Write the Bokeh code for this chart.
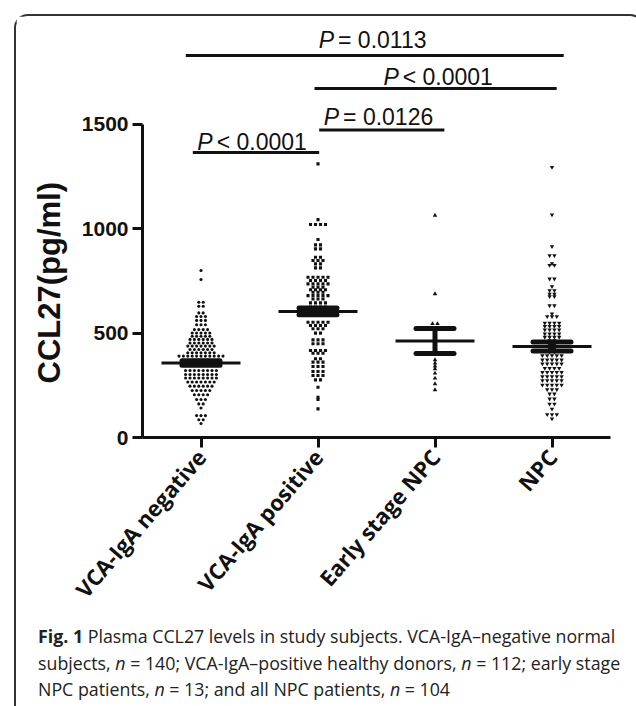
import math
from collections import defaultdict

from bokeh.plotting import figure
from bokeh.models import Range1d, FixedTicker, Label, Div, Title
from bokeh.layouts import column
from bokeh.embed import file_html
from bokeh.resources import INLINE

# ---------------- data ----------------
categories = ["VCA-IgA negative", "VCA-IgA positive", "Early stage NPC", "NPC"]
cat_pos = [1, 2, 3, 4]

vca_negative = [
    800, 757, 648, 648, 629, 629, 597, 597, 580, 580, 580, 561, 561, 561,
    540, 540, 540, 517, 517, 517, 517, 501, 501, 501, 501, 501,
    485, 485, 485, 485, 485, 470, 470, 470, 470, 470, 470,
    453, 453, 453, 453, 453, 453, 438, 438, 438, 438, 438, 438, 438,
    422, 422, 422, 422, 422, 422, 406, 406, 406, 406, 406, 406, 406,
    390, 390, 390, 390, 390, 390, 390, 390, 390, 390, 390,
    372, 372, 372, 372, 355, 355, 355, 355,
    321, 321, 321, 321, 321, 321, 321, 321,
    302, 302, 302, 302, 302, 302, 302, 302,
    285, 285, 285, 285, 285, 285, 285, 285,
    266, 266, 266, 266, 266, 266, 266, 246, 246, 246, 246, 246, 246,
    225, 225, 225, 225, 225, 205, 205, 205, 205, 182, 182, 182,
    161, 161, 141, 105, 105, 105, 85, 85, 67,
]
vca_positive = [
    1311, 1044, 1021, 1021, 1021, 1021, 949, 923, 923, 904, 904,
    864, 864, 848, 848, 848, 832, 832, 813, 813,
    768, 768, 768, 768, 768, 752, 752, 752, 752, 736, 736, 736, 736, 736,
    720, 720, 720, 708, 708, 708, 708, 696, 696, 696,
    680, 680, 680, 680, 680, 664, 664, 664,
    645, 645, 645, 645, 625, 625, 625, 625, 605, 605, 605, 605, 590, 590, 590,
    552, 552, 552, 552, 552, 537, 537, 537, 537, 521, 521, 521, 500, 500,
    468, 468, 468, 449, 449, 449, 417, 417, 417, 417, 404, 404, 404,
    377, 377, 361, 361, 361, 340, 340, 340, 316, 316, 316, 297, 297, 297,
    276, 276, 241, 193, 182, 137,
]
early_stage_npc = [1064, 688, 545, 545, 520, 372, 356, 342, 329, 308, 284, 257, 228]
npc = [
    1295, 1067, 915, 872, 872, 834, 825, 825, 760, 760, 724, 704, 704,
    688, 688, 676, 676, 632, 632, 593, 580, 580, 580,
    549, 549, 549, 549, 533, 533, 533, 533, 516, 516, 516, 516,
    497, 497, 497, 497, 481, 481, 481, 481, 465, 465, 445, 445, 425, 425,
    410, 410, 393, 393, 393, 393, 393, 372, 372, 372, 372, 372,
    353, 353, 353, 353, 353, 332, 332, 332, 332, 313, 313, 313, 313, 313,
    292, 292, 292, 292, 292, 273, 273, 273, 273, 273, 252, 252, 252, 252, 252,
    230, 230, 230, 209, 209, 185, 185, 161, 161, 137, 110, 110, 110, 90,
]

group_means = [357, 604, 462, 436]
group_sems = [11, 16, 60, 22]

sig_text = ["= 0.0113", "< 0.0001", "= 0.0126", "< 0.0001"]
sig_x0 = [0.87, 1.97, 2.01, 0.93]
sig_x1 = [4.10, 4.04, 3.08, 2.01]
sig_bar_y = [1831, 1672, 1474, 1366]
sig_text_x = [2.137, 2.69, 2.18, 1.10]
sig_text_y = [1905, 1727, 1538, 1416]

y_ticks = [0, 500, 1000, 1500]

# ---------------- layout helpers ----------------
PX_PER_X = 117.0


def row_offsets(vals, center, spacing_px):
    rows = defaultdict(list)
    for i, v in enumerate(vals):
        rows[v].append(i)
    xs = [0.0] * len(vals)
    for v, idx in rows.items():
        k = len(idx)
        for j, i in enumerate(idx):
            xs[i] = center + (j - (k - 1) / 2.0) * spacing_px / PX_PER_X
    return xs


INK = "#111111"

p = figure(width=616, height=602, output_backend="svg", toolbar_location=None,
           x_range=Range1d(0.5, 4.5), y_range=Range1d(0, 1979),
           min_border_left=126, min_border_right=22, min_border_top=8,
           min_border_bottom=181, background_fill_color="white",
           border_fill_color="white")
p.outline_line_color = None
p.xgrid.visible = False
p.ygrid.visible = False

# points
p.scatter(row_offsets(vca_negative, cat_pos[0], 4.4), vca_negative, marker="circle",
          size=3.1, fill_color=INK, line_color=None)
p.scatter(row_offsets(vca_positive, cat_pos[1], 5.0), vca_positive, marker="square",
          size=3.1, fill_color=INK, line_color=None)
p.scatter(row_offsets(early_stage_npc, cat_pos[2], 5.0), early_stage_npc, marker="triangle",
          size=4.5, fill_color=INK, line_color=None)
p.scatter(row_offsets(npc, cat_pos[3], 4.8), npc, marker="inverted_triangle",
          size=4.4, fill_color=INK, line_color=None)

# mean and SEM
half_mean = 39.5 / PX_PER_X
half_cap = 19.0 / PX_PER_X
p.segment([c - half_mean for c in cat_pos], group_means,
          [c + half_mean for c in cat_pos], group_means, line_width=3, color=INK)
lo = [m - s for m, s in zip(group_means, group_sems)]
hi = [m + s for m, s in zip(group_means, group_sems)]
p.segment(cat_pos, lo, cat_pos, hi, line_width=5, color=INK)
p.segment([c - half_cap for c in cat_pos], lo, [c + half_cap for c in cat_pos], lo,
          line_width=5, color=INK, line_cap="round")
p.segment([c - half_cap for c in cat_pos], hi, [c + half_cap for c in cat_pos], hi,
          line_width=5, color=INK, line_cap="round")

# significance bars
p.segment(sig_x0, sig_bar_y, sig_x1, sig_bar_y, line_width=3, color=INK)
for t, tx, ty in zip(sig_text, sig_text_x, sig_text_y):
    p.add_layout(Label(x=tx, y=ty, text="P", text_font="Liberation Sans",
                       text_font_style="italic", text_font_size="23px",
                       text_align="right", text_baseline="middle", text_color=INK))
    p.add_layout(Label(x=tx, y=ty, x_offset=4, text=t, text_font="Liberation Sans",
                       text_font_size="23px", text_align="left",
                       text_baseline="middle", text_color=INK))

# axes
yax = p.yaxis[0]
yax.ticker = FixedTicker(ticks=y_ticks)
yax.bounds = (0, 1500)
yax.minor_tick_line_color = None
yax.major_tick_in = 0
yax.major_tick_out = 10
yax.major_tick_line_width = 3
yax.axis_line_width = 3
yax.axis_line_color = INK
yax.major_tick_line_color = INK
yax.major_label_text_font = "Liberation Sans"
yax.major_label_text_font_style = "bold"
yax.major_label_text_font_size = "21px"
yax.major_label_text_color = INK
yax.major_label_standoff = 4

xax = p.xaxis[0]
xax.ticker = FixedTicker(ticks=cat_pos)
xax.major_label_overrides = {c: n for c, n in zip(cat_pos, categories)}
xax.major_label_orientation = 0.86
xax.minor_tick_line_color = None
xax.major_tick_in = 0
xax.major_tick_out = 10
xax.major_tick_line_width = 3
xax.axis_line_width = 3
xax.axis_line_color = INK
xax.major_tick_line_color = INK
xax.major_label_text_font = "Open Sans"
xax.major_label_text_font_style = "bold"
xax.major_label_text_font_size = "22px"
xax.major_label_text_color = INK
xax.major_label_standoff = 5

ytitle = Title(text="CCL27(pg/ml)", text_font="Liberation Sans", text_font_style="bold",
               text_font_size="31px", text_color=INK, align="left", offset=54,
               standoff=24)
p.add_layout(ytitle, "left")

caption_html = (
    '<div style="font-family: \'Open Sans\'; font-size: 17.8px; line-height: 26.5px; '
    'color: #222; white-space: nowrap; padding-left: 17px;">'
    '<b>Fig. 1</b> Plasma CCL27 levels in study subjects. VCA-IgA&ndash;negative normal<br>'
    'subjects, <i>n</i> = 140; VCA-IgA&ndash;positive healthy donors, <i>n</i> = 112; early stage<br>'
    'NPC patients, <i>n</i> = 13; and all NPC patients, <i>n</i> = 104'
    '</div>'
)
cap = Div(text=caption_html, width=616, height=80)

layout = column(p, cap, styles={"margin-left": "14px", "margin-top": "14px",
                                "border": "2px solid #333",
                                "border-bottom": "none",
                                "border-radius": "14px 14px 0 0"})

open("out.html", "w").write(file_html(layout, INLINE))
